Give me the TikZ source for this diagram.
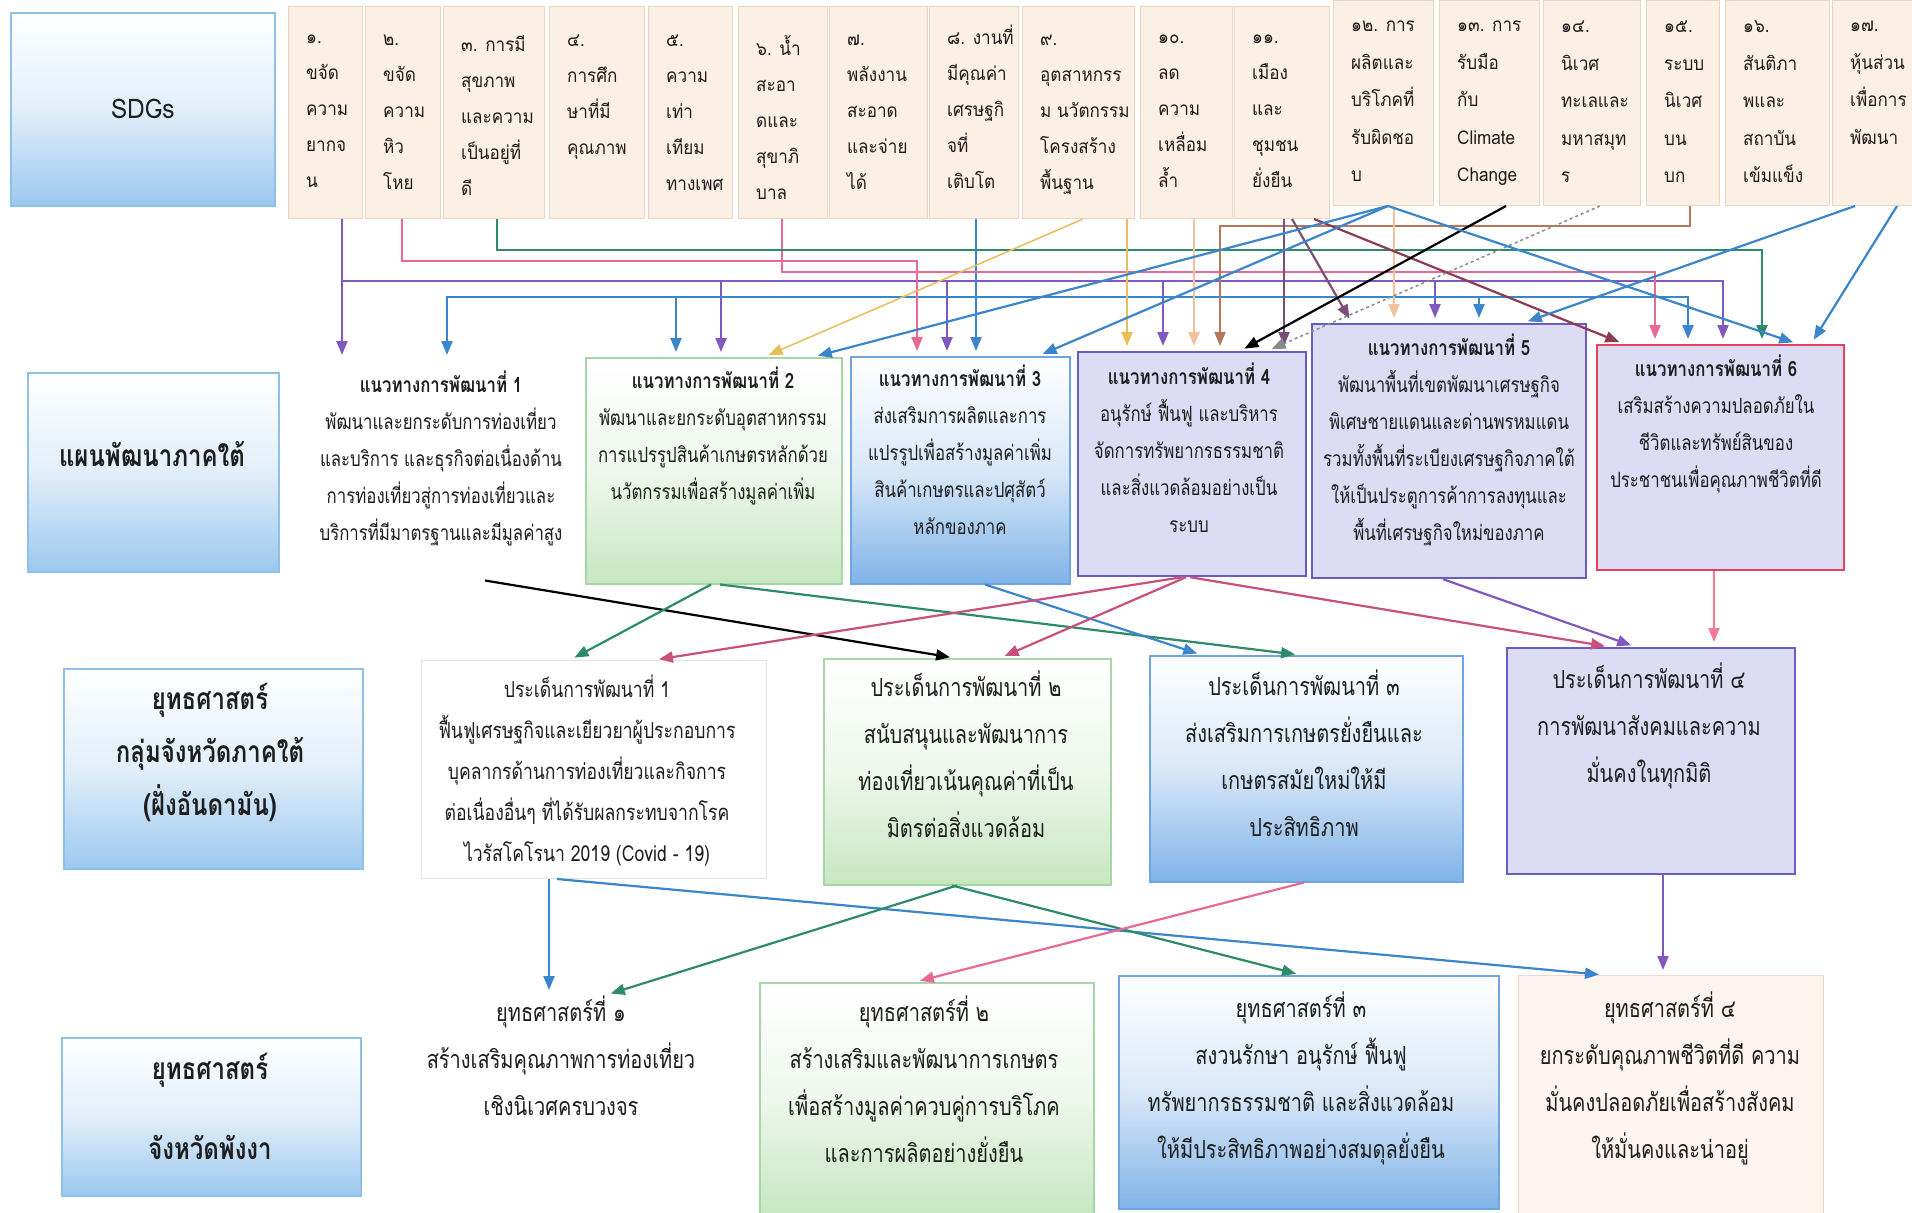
\documentclass[tikz,border=0pt]{standalone}
\usepackage{fontspec}
\usetikzlibrary{arrows.meta}
\newfontfamily\thaiS[Script=Thai,FakeStretch=0.9]{Loma}
\newfontfamily\thaiN[Script=Thai,FakeStretch=0.8]{Loma}
\definecolor{txt}{HTML}{1E1E1E}
\definecolor{sdgf}{HTML}{FCEFE3}
\definecolor{sdgb}{HTML}{E9D5C3}
\definecolor{lblf}{HTML}{9CC8EE}
\definecolor{lblb}{HTML}{8EC0EA}
\definecolor{grnf}{HTML}{C6E7C0}
\definecolor{grnb}{HTML}{A9D6A6}
\definecolor{bluf}{HTML}{80B3E8}
\definecolor{blub}{HTML}{6FA6E2}
\definecolor{lavf}{HTML}{DCDCF5}
\definecolor{lavb}{HTML}{6A5CC2}
\definecolor{redb}{HTML}{E8415E}
\definecolor{s4f}{HTML}{FDF3EF}
\definecolor{s4b}{HTML}{F0D6D0}
\definecolor{faint}{HTML}{E4E4E4}
\definecolor{cpur}{HTML}{8058C0}
\definecolor{cblu}{HTML}{3A85CC}
\definecolor{cpnk}{HTML}{E86A92}
\definecolor{cgrn}{HTML}{2E8B6A}
\definecolor{cgold}{HTML}{E8BE5A}
\definecolor{cpeach}{HTML}{F2C29C}
\definecolor{cbrown}{HTML}{B5765A}
\definecolor{cplum}{HTML}{7B4E78}
\definecolor{cmaroon}{HTML}{8C3B52}
\definecolor{cgray}{HTML}{8A8A8A}
\definecolor{cmag}{HTML}{C8507C}
\definecolor{clpnk}{HTML}{F27A93}
\tikzset{
 box/.style={anchor=north west, inner sep=0pt, line width=1.5pt},
 sdgbox/.style={box, draw=sdgb, fill=sdgf, line width=1pt},
 lblbox/.style={box, draw=lblb, top color=white, bottom color=lblf, middle color=white!70!lblf},
 grnbox/.style={box, draw=grnb, top color=white, bottom color=grnf, middle color=white!70!grnf},
 blubox/.style={box, draw=blub, top color=white, bottom color=bluf, middle color=white!70!bluf},
 lavbox/.style={box, draw=lavb, fill=lavf, line width=2.2pt},
 sdgtxt/.style={anchor=north west, inner sep=0pt, align=left, text=txt,
   font=\thaiS\fontsize{19}{36}\selectfont, execute at begin node={\rule{0pt}{20pt}}},
 sdgtxtb/.style={sdgtxt, font=\thaiS\fontsize{19}{37.5}\selectfont},
 ptxt/.style={anchor=north, inner sep=0pt, align=center, text=txt,
   font=\thaiN\fontsize{21}{37}\selectfont, execute at begin node={\rule{0pt}{23pt}}},
 itxt/.style={anchor=north, inner sep=0pt, align=center, text=txt,
   font=\thaiN\fontsize{25}{47}\selectfont, execute at begin node={\rule{0pt}{27pt}}},
 ionetxt/.style={anchor=north, inner sep=0pt, align=center, text=txt,
   font=\thaiN\fontsize{22}{41}\selectfont, execute at begin node={\rule{0pt}{24pt}}},
 ltxt/.style={anchor=north, inner sep=0pt, align=center, text=txt,
   font=\thaiN\bfseries\fontsize{30}{53}\selectfont, execute at begin node={\rule{0pt}{32pt}}},
 arr/.style={line width=2.2pt, -{Triangle[length=14pt,width=11pt]}, shorten >=5pt},
}
% name, x, top, width, height, text top, text style, text
\newcommand\sdgn[8]{%
 \node[sdgbox, minimum width=#4, minimum height=#5] (#1) at (#2,#3) {};
 \node[#7] (#1t) at (#2+18,#6) {#8};}
\begin{document}
\begin{tikzpicture}[x=1pt,y=-1pt]
\useasboundingbox (0,0) rectangle (1912,1213);
\fill[white] (0,0) rectangle (1912,1213);

% ---------------- SDG row
\node[lblbox, minimum width=264, minimum height=193] (sdgl) at (10,12) {};
\node[font=\thaiS\fontsize{27}{30}\selectfont, text=txt] (sdglt) at (sdgl.center) {SDGs};
\sdgn{s1}{288}{6}{74}{212}{35}{sdgtxt}{๑.\\ขจัด\\ความ\\ยากจ\\น}
\sdgn{s2}{365}{6}{75}{212}{35}{sdgtxt}{๒.\\ขจัด\\ความ\\หิว\\โหย}
\sdgn{s3}{443}{6}{101}{212}{35}{sdgtxt}{๓. การมี\\สุขภาพ\\และความ\\เป็นอยู่ที่\\ดี}
\sdgn{s4}{549}{6}{95}{212}{35}{sdgtxt}{๔.\\การศึก\\ษาที่มี\\คุณภาพ}
\sdgn{s5}{648}{6}{84}{212}{35}{sdgtxt}{๕.\\ความ\\เท่า\\เทียม\\ทางเพศ}
\sdgn{s6}{738}{6}{89}{212}{35}{sdgtxt}{๖. น้ำ\\สะอา\\ดและ\\สุขาภิ\\บาล}
\sdgn{s7}{829}{6}{98}{212}{35}{sdgtxt}{๗.\\พลังงาน\\สะอาด\\และจ่าย\\ได้}
\sdgn{s8}{929}{6}{89}{212}{25}{sdgtxt}{๘. งานที่\\มีคุณค่า\\เศรษฐกิ\\จที่\\เติบโต}
\sdgn{s9}{1022}{6}{112}{212}{35}{sdgtxt}{๙.\\อุตสาหกรร\\ม นวัตกรรม\\โครงสร้าง\\พื้นฐาน}
\sdgn{s10}{1140}{6}{92}{212}{35}{sdgtxt}{๑๐.\\ลด\\ความ\\เหลื่อม\\ล้ำ}
\sdgn{s11}{1234}{6}{95}{212}{35}{sdgtxt}{๑๑.\\เมือง\\และ\\ชุมชน\\ยั่งยืน}
\sdgn{s12}{1333}{0}{100}{205}{21}{sdgtxtb}{๑๒. การ\\ผลิตและ\\บริโภคที่\\รับผิดชอ\\บ}
\sdgn{s13}{1439}{0}{100}{205}{21}{sdgtxtb}{๑๓. การ\\รับมือ\\กับ\\Climate\\Change}
\sdgn{s14}{1543}{0}{97}{205}{21}{sdgtxtb}{๑๔.\\นิเวศ\\ทะเลและ\\มหาสมุท\\ร}
\sdgn{s15}{1646}{0}{73}{205}{21}{sdgtxtb}{๑๕.\\ระบบ\\นิเวศ\\บน\\บก}
\sdgn{s16}{1725}{0}{104}{205}{21}{sdgtxtb}{๑๖.\\สันติภา\\พและ\\สถาบัน\\เข้มแข็ง}
\sdgn{s17}{1832}{0}{80}{205}{21}{sdgtxtb}{๑๗.\\หุ้นส่วน\\เพื่อการ\\พัฒนา}

% ---------------- Plan row
\node[lblbox, minimum width=251, minimum height=199] (pl) at (27,372) {};
\node[ltxt] (plt) at (152,434) {แผนพัฒนาภาคใต้};
\node[box, minimum width=256, minimum height=219] (p1) at (311,360) {};
\node[ptxt] (p1t) at (441,371) {{\bfseries แนวทางการพัฒนาที่ 1}\\พัฒนาและยกระดับการท่องเที่ยว\\และบริการ และธุรกิจต่อเนื่องด้าน\\การท่องเที่ยวสู่การท่องเที่ยวและ\\บริการที่มีมาตรฐานและมีมูลค่าสูง};
\node[grnbox, minimum width=256, minimum height=226] (p2) at (585,357) {};
\node[ptxt] (p2t) at (713,367) {{\bfseries แนวทางการพัฒนาที่ 2}\\พัฒนาและยกระดับอุตสาหกรรม\\การแปรรูปสินค้าเกษตรหลักด้วย\\นวัตกรรมเพื่อสร้างมูลค่าเพิ่ม};
\node[blubox, minimum width=219, minimum height=227] (p3) at (850,356) {};
\node[ptxt] (p3t) at (960,365) {{\bfseries แนวทางการพัฒนาที่ 3}\\ส่งเสริมการผลิตและการ\\แปรรูปเพื่อสร้างมูลค่าเพิ่ม\\สินค้าเกษตรและปศุสัตว์\\หลักของภาค};
\node[lavbox, minimum width=228, minimum height=224] (p4) at (1077,351) {};
\node[ptxt] (p4t) at (1189,363) {{\bfseries แนวทางการพัฒนาที่ 4}\\อนุรักษ์ ฟื้นฟู และบริหาร\\จัดการทรัพยากรธรรมชาติ\\และสิ่งแวดล้อมอย่างเป็น\\ระบบ};
\node[lavbox, minimum width=274, minimum height=254] (p5) at (1311,323) {};
\node[ptxt] (p5t) at (1449,334) {{\bfseries แนวทางการพัฒนาที่ 5}\\พัฒนาพื้นที่เขตพัฒนาเศรษฐกิจ\\พิเศษชายแดนและด่านพรหมแดน\\รวมทั้งพื้นที่ระเบียงเศรษฐกิจภาคใต้\\ให้เป็นประตูการค้าการลงทุนและ\\พื้นที่เศรษฐกิจใหม่ของภาค};
\node[lavbox, draw=redb, minimum width=247, minimum height=225] (p6) at (1596,344) {};
\node[ptxt] (p6t) at (1716,355) {{\bfseries แนวทางการพัฒนาที่ 6}\\เสริมสร้างความปลอดภัยใน\\ชีวิตและทรัพย์สินของ\\ประชาชนเพื่อคุณภาพชีวิตที่ดี};

% ---------------- Issue row
\node[lblbox, minimum width=299, minimum height=200] (il) at (63,668) {};
\node[ltxt] (ilt) at (210,683) {ยุทธศาสตร์\\กลุ่มจังหวัดภาคใต้\\(ฝั่งอันดามัน)};
\node[box, draw=faint, line width=1pt, minimum width=345, minimum height=218] (i1) at (421,660) {};
\node[ionetxt] (i1t) at (587,675) {ประเด็นการพัฒนาที่ 1\\ฟื้นฟูเศรษฐกิจและเยียวยาผู้ประกอบการ\\บุคลากรด้านการท่องเที่ยวและกิจการ\\ต่อเนื่องอื่นๆ ที่ได้รับผลกระทบจากโรค\\ไวรัสโคโรนา 2019 (Covid - 19)};
\node[grnbox, minimum width=287, minimum height=226] (i2) at (823,658) {};
\node[itxt] (i2t) at (966,671) {ประเด็นการพัฒนาที่ ๒\\สนับสนุนและพัฒนาการ\\ท่องเที่ยวเน้นคุณค่าที่เป็น\\มิตรต่อสิ่งแวดล้อม};
\node[blubox, minimum width=313, minimum height=226] (i3) at (1149,655) {};
\node[itxt] (i3t) at (1304,670) {ประเด็นการพัฒนาที่ ๓\\ส่งเสริมการเกษตรยั่งยืนและ\\เกษตรสมัยใหม่ให้มี\\ประสิทธิภาพ};
\node[lavbox, minimum width=288, minimum height=226] (i4) at (1506,647) {};
\node[itxt] (i4t) at (1649,663) {ประเด็นการพัฒนาที่ ๔\\การพัฒนาสังคมและความ\\มั่นคงในทุกมิติ};

% ---------------- Strategy row
\node[lblbox, minimum width=299, minimum height=158] (sl) at (61,1037) {};
\node[ltxt, font=\thaiN\bfseries\fontsize{30}{80}\selectfont] (slt) at (210,1053) {ยุทธศาสตร์\\จังหวัดพังงา};
\node[box, minimum width=320, minimum height=218] (t1) at (421,995) {};
\node[itxt] (t1t) at (561,996) {ยุทธศาสตร์ที่ ๑\\สร้างเสริมคุณภาพการท่องเที่ยว\\เชิงนิเวศครบวงจร};
\node[grnbox, minimum width=334, minimum height=231] (t2) at (759,982) {};
\node[itxt] (t2t) at (924,996) {ยุทธศาสตร์ที่ ๒\\สร้างเสริมและพัฒนาการเกษตร\\เพื่อสร้างมูลค่าควบคู่การบริโภค\\และการผลิตอย่างยั่งยืน};
\node[blubox, minimum width=380, minimum height=233] (t3) at (1118,975) {};
\node[itxt] (t3t) at (1301,992) {ยุทธศาสตร์ที่ ๓\\สงวนรักษา อนุรักษ์ ฟื้นฟู\\ทรัพยากรธรรมชาติ และสิ่งแวดล้อม\\ให้มีประสิทธิภาพอย่างสมดุลยั่งยืน};
\node[box, draw=s4b, fill=s4f, line width=1pt, minimum width=305, minimum height=238] (t4) at (1518,975) {};
\node[itxt] (t4t) at (1670,992) {ยุทธศาสตร์ที่ ๔\\ยกระดับคุณภาพชีวิตที่ดี ความ\\มั่นคงปลอดภัยเพื่อสร้างสังคม\\ให้มั่นคงและน่าอยู่};

% ---------------- SDG -> Plan connectors
\foreach \tx/\tn in {342/p1,721/p2,947/p3,1163/p4,1435/p5,1723/p6}
  \draw[arr,cpur] (s1.south -| 342,0) -- (342,281) -| (\tn.north -| \tx,0);
\foreach \tx/\tn in {447/p1,676/p2,976/p3,1479/p5,1688/p6}
  \draw[arr,cblu] (s8.south -| 976,0) -- (976,297) -| (\tn.north -| \tx,0);
\draw[arr,cpnk] (s2.south -| 402,0) -- (402,261) -| (p3.north -| 917,0);
\draw[arr,cpnk] (s6.south -| 782,0) -- (782,272) -| (p6.north -| 1655,0);
\draw[arr,cgrn] (s3.south -| 497,0) -- (497,250) -| (p6.north -| 1762,0);
\draw[arr,cbrown] (s15.south -| 1690,0) -- (1690,226) -| (p4.north -| 1220,0);
\draw[arr,cgold] (s9.south -| 1127,0) -- (p4.north -| 1127,0);
\draw[arr,cgold,line width=1.5pt] (s9.south -| 1083,0) -- (p2.north -| 764,0);
\draw[arr,cpeach] (s10.south -| 1194,0) -- (p4.north -| 1194,0);
\draw[arr,cpeach] (s12.south -| 1394,0) -- (p5.north -| 1394,0);
\draw[arr,cplum] (s11.south -| 1284,0) -- (p4.north -| 1284,0);
\draw[arr,cplum] (s11.south -| 1292,0) -- (p5.north -| 1352,0);
\draw[arr,cmaroon] (s11.south -| 1314,0) -- (p6.north -| 1624,0);
\draw[arr,black] (s13.south -| 1506,0) -- (p4.north -| 1240,0);
\draw[arr,cgray,dashed,line width=1.5pt] (s14.south -| 1600,0) -- (p4.north -| 1267,0);
\coordinate (apex) at (s12.south -| 1388,0);
\draw[arr,cblu] (apex) -- (p2.north -| 813,0);
\draw[arr,cblu] (apex) -- (p3.north -| 1038,0);
\draw[arr,cblu] (apex) -- (p6.north -| 1798,0);
\draw[arr,cblu] (s17.south -| 1855,0) -- (p5.north -| 1523,0);
\draw[arr,cblu] (s17.south -| 1897,0) -- (p6.north -| 1811,0);

% ---------------- Plan -> Issue connectors
\draw[arr,black] (p1.south -| 485,0) -- (i2.north -| 955,0);
\draw[arr,cgrn] (p2.south -| 711,0) -- (i1.north -| 570,0);
\draw[arr,cgrn] (p2.south -| 720,0) -- (i3.north -| 1300,0);
\draw[arr,cblu] (p3.south -| 985,0) -- (i3.north -| 1202,0);
\draw[arr,cmag] (p4.south -| 1182,0) -- (i1.north -| 654,0);
\draw[arr,cmag] (p4.south -| 1186,0) -- (i2.north -| 1000,0);
\draw[arr,cmag] (p4.south -| 1190,0) -- (i4.north -| 1610,0);
\draw[arr,cpur] (p5.south -| 1443,0) -- (i4.north -| 1636,0);
\draw[arr,clpnk] (p6.south -| 1714,0) -- (i4.north -| 1714,0);

% ---------------- Issue -> Strategy connectors
\draw[arr,cblu] (i1.south -| 549,0) -- (t1.north -| 549,0);
\draw[arr,cblu] (i1.south -| 557,0) -- (t4.north -| 1604,0);
\draw[arr,cgrn] (i2.south -| 957,0) -- (t1.north -| 606,0);
\draw[arr,cgrn] (i2.south -| 952,0) -- (t3.north -| 1301,0);
\draw[arr,cpnk] (i3.south -| 1304,0) -- (t2.north -| 915,0);
\draw[arr,cpur] (i4.south -| 1663,0) -- (t4.north -| 1663,0);
\end{tikzpicture}
\end{document}
